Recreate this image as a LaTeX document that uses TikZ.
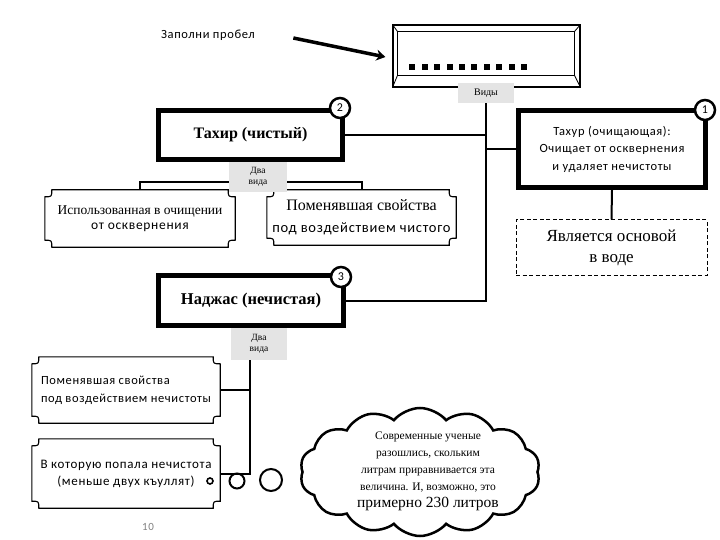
\documentclass[tikz,border=0pt]{standalone}
\usepackage{fontspec}
\setmainfont{Liberation Serif}
\setsansfont{Carlito}[LetterSpace=5]
\usetikzlibrary{arrows.meta,calc,shapes.symbols}

\definecolor{tagGray}{HTML}{E4E4E4}

\tikzset{
  heavybox/.style={draw, line width=5pt, inner sep=0pt},
  plaque/.style={inner sep=0pt},
  tag/.style={fill=tagGray, inner sep=0pt, align=center, font=\fontsize{9.5}{11}\selectfont},
  num/.style={circle, draw, line width=2.5pt, fill=white, minimum size=20pt, inner sep=0pt, font=\sffamily\fontsize{12}{12}\selectfont},
  link/.style={line width=2pt},
  bubble/.style={circle, draw, line width=2pt, inner sep=0pt},
}

\newcommand{\plaqueframe}[1]{%
  \draw[line width=1.1pt]
    ($(#1.north west)+(7,0)$) -- ($(#1.north east)+(-7,0)$)
    .. controls ($(#1.north east)+(-7,7)$) .. ($(#1.north east)+(0,7)$)
    -- ($(#1.south east)+(0,-7)$)
    .. controls ($(#1.south east)+(-7,-7)$) .. ($(#1.south east)+(-7,0)$)
    -- ($(#1.south west)+(7,0)$)
    .. controls ($(#1.south west)+(7,-7)$) .. ($(#1.south west)+(0,-7)$)
    -- ($(#1.north west)+(0,7)$)
    .. controls ($(#1.north west)+(7,7)$) .. ($(#1.north west)+(7,0)$) -- cycle;}

\begin{document}
\begin{tikzpicture}[x=1pt,y=-1pt]
\useasboundingbox (0,0) rectangle (720,540);

\node (zapolni) at (208,35) [font=\sffamily\fontsize{12.5}{14}\selectfont] {Заполни пробел};
\node (blank) at (486.5,56) [draw, line width=1.2pt, minimum width=187pt, minimum height=62pt] {};
\draw[line width=1.2pt] ($(blank.north west)+(5,7)$) rectangle ($(blank.south east)+(-6,-12)$);
\draw[line width=0.8pt] (blank.north west) -- ++(5,7);
\draw[line width=0.8pt] (blank.north east) -- ++(-6,7);
\draw[line width=0.8pt] (blank.south west) -- ++(5,-12);
\draw[line width=0.8pt] (blank.south east) -- ++(-6,-12);
\foreach \i in {0,...,9}
  \fill ($(blank.west)+(17+12.4*\i,8)$) rectangle ++(6,6);
\draw[line width=3.5pt, -{Stealth[length=9pt,width=11pt]}] ($(zapolni.east)+(35,3)$) -- ($(blank.west)+(-7,1)$);

\node[tag, minimum width=56pt, minimum height=20pt, font=\fontsize{10}{10}\selectfont] (vidy) at (486,93) {Виды};

\node[heavybox, minimum width=184pt, minimum height=49pt, font=\bfseries\fontsize{16}{18}\selectfont] (tahir) at (250.5,135) {Тахир (чистый)};
\node[heavybox, minimum width=187pt, minimum height=77pt, align=center, font=\sffamily\fontsize{12.5}{17.5}\selectfont] (tahur) at (612,149) {Тахур (очищающая):\\Очищает от осквернения\\и удаляет нечистоты};
\node[draw, dash pattern=on 4pt off 2.5pt, line width=1pt, minimum width=191pt, minimum height=55pt, align=center, font=\fontsize{17}{21}\selectfont] (osnova) at (611.5,247.5) {Является основой\\в воде};
\node[heavybox, minimum width=185pt, minimum height=50pt, font=\bfseries\fontsize{16.5}{18}\selectfont] (najas) at (251,300.5) {Наджас (нечистая)};

\node[plaque, minimum width=190pt, minimum height=57pt, align=center, font=\fontsize{13.5}{15.5}\selectfont] (ispolz) at (140,218.5) {Использованная в очищении\\\sffamily от осквернения};
\node[plaque, minimum width=189pt, minimum height=55pt, align=center, font=\fontsize{16}{22}\selectfont] (pomen) at (361.5,217.5) {Поменявшая свойства\\\sffamily\fontsize{14.5}{22}\selectfont под воздействием чистого};
\node[plaque, minimum width=188pt, minimum height=66pt, align=left, font=\sffamily\fontsize{12.5}{18}\selectfont] (pomen2) at (126,390) {Поменявшая свойства\\под воздействием нечистоты};
\node[plaque, minimum width=188pt, minimum height=69pt, align=center, font=\sffamily\fontsize{13}{17}\selectfont] (popala) at (126,473.5) {В которую попала нечистота\\(меньше двух къуллят)};
\foreach \p in {ispolz,pomen,pomen2,popala}
  \plaqueframe{\p};

\draw[line width=2pt] (ispolz.north) -- ++(0,-8) -| (pomen.north);
\draw[line width=0.8pt] (ispolz.north) -- (pomen.north);
\node[tag, minimum width=58pt, minimum height=30pt] (dva1) at (258,177) {Два\\вида};
\node[tag, minimum width=56pt, minimum height=32pt] (dva2) at (259,344) {Два\\вида};

\draw[link] (vidy.south) -- (vidy.south |- najas.east) -- (najas.east);
\draw[link] (tahir.east) -- (tahir.east -| vidy.south);
\draw[link] (tahur.west) -- (tahur.west -| vidy.south);
\draw[link] (tahur.south) -- (osnova.north);
\coordinate (stem) at (250,360);
\draw[link] (stem) |- (popala.east);
\draw[link] (pomen2.east) -- (pomen2.east -| stem);

\node[num] (n2) at (340,108) {2};
\node[num] (n1) at (705,110) {1};
\node[num] (n3) at (341,277) {3};

\node[bubble, line width=1.6pt, minimum size=6pt] (bub1) at (210,481) {};
\node[bubble, minimum size=15pt] (bub2) at (237,481) {};
\node[bubble, minimum size=22pt] (bub3) at (271,480) {};
\node[cloud, draw, line width=2.5pt, cloud puffs=14, cloud puff arc=100, cloud ignores aspect, minimum width=240pt, minimum height=128pt] (cloud) at (420,472) {};
\node[align=center, font=\fontsize{11.5}{17}\selectfont] (cloudtxt) at (428,471) {Современные ученые\\разошлись, скольким\\литрам приравнивается эта\\величина. И, возможно, это\\{\fontsize{15.5}{20}\selectfont примерно 230 литров}};

\node[text=gray, font=\sffamily\fontsize{11}{11}\selectfont] (pagenum) at (148,527) {10};
\end{tikzpicture}
\end{document}
